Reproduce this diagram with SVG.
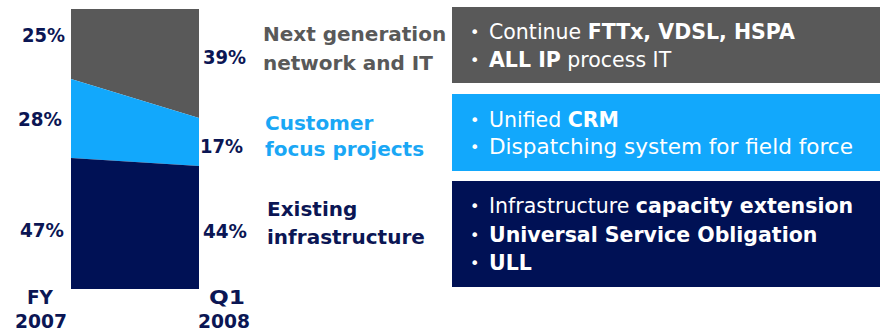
<svg xmlns="http://www.w3.org/2000/svg" width="880" height="333" viewBox="0 0 880 333">
<style>
text{font-family:"DejaVu Sans","Verdana",sans-serif;font-weight:bold}
.pct{font-size:20px;fill:#0B1654}
.cat{font-size:20px}
.box{font-size:20.5px;fill:#ffffff;font-weight:normal}
.box .b{font-weight:bold}
.bul{font-size:16px;fill:#ffffff;font-weight:normal}
</style>
<rect width="880" height="333" fill="#ffffff"/>
<g id="chart">
<polygon points="71,9 199,9 199,118 71,79" fill="#595959"/>
<polygon points="71,79 199,118 199,166 71,158" fill="#12A8FC"/>
<polygon points="71,158 199,166 199,289 71,289" fill="#001155"/>
</g>
<g id="axis-labels">
<text class="pct" x="22" y="42" textLength="43" lengthAdjust="spacingAndGlyphs">25%</text>
<text class="pct" x="18" y="126" textLength="44" lengthAdjust="spacingAndGlyphs">28%</text>
<text class="pct" x="20" y="237" textLength="44" lengthAdjust="spacingAndGlyphs">47%</text>
<text class="pct" x="203" y="64" textLength="43" lengthAdjust="spacingAndGlyphs">39%</text>
<text class="pct" x="200" y="153" textLength="43" lengthAdjust="spacingAndGlyphs">17%</text>
<text class="pct" x="203" y="238" textLength="44" lengthAdjust="spacingAndGlyphs">44%</text>
<text class="pct" x="27" y="304" textLength="26" lengthAdjust="spacingAndGlyphs">FY</text>
<text class="pct" x="15" y="328" textLength="52" lengthAdjust="spacingAndGlyphs">2007</text>
<text class="pct" x="209" y="304" textLength="36" lengthAdjust="spacingAndGlyphs">Q1</text>
<text class="pct" x="198" y="328" textLength="52" lengthAdjust="spacingAndGlyphs">2008</text>
</g>
<g id="cat-ngn">
<text class="cat" x="263" y="41" fill="#595959">Next generation</text>
<text class="cat" x="263" y="70" fill="#595959">network and IT</text>
</g>
<g id="cat-customer">
<text class="cat" x="265" y="130" fill="#1AA7F5">Customer</text>
<text class="cat" x="265" y="156" fill="#1AA7F5">focus projects</text>
</g>
<g id="cat-existing">
<text class="cat" x="267" y="216" fill="#0B1654">Existing</text>
<text class="cat" x="267" y="244" fill="#0B1654">infrastructure</text>
</g>
<g id="box-ngn">
<rect x="452" y="7" width="428" height="76" fill="#595959"/>
<text class="bul" x="470" y="38">•</text>
<text class="box" x="489" y="39">Continue <tspan class="b">FTTx, VDSL, HSPA</tspan></text>
<text class="bul" x="470" y="66">•</text>
<text class="box" x="489" y="67"><tspan class="b">ALL IP</tspan> process IT</text>
</g>
<g id="box-customer">
<rect x="452" y="94" width="428" height="77" fill="#12A8FC"/>
<text class="bul" x="470" y="126">•</text>
<text class="box" x="489" y="127">Unified <tspan class="b">CRM</tspan></text>
<text class="bul" x="470" y="153">•</text>
<text class="box" x="489" y="154" textLength="364" lengthAdjust="spacingAndGlyphs">Dispatching system for field force</text>
</g>
<g id="box-existing">
<rect x="452" y="181" width="428" height="106" fill="#001155"/>
<text class="bul" x="470" y="212">•</text>
<text class="box" x="489" y="213">Infrastructure <tspan class="b">capacity extension</tspan></text>
<text class="bul" x="470" y="241">•</text>
<text class="box" x="489" y="242"><tspan class="b">Universal Service Obligation</tspan></text>
<text class="bul" x="470" y="269">•</text>
<text class="box" x="489" y="270"><tspan class="b">ULL</tspan></text>
</g>
<g id="connectors"></g>
</svg>
